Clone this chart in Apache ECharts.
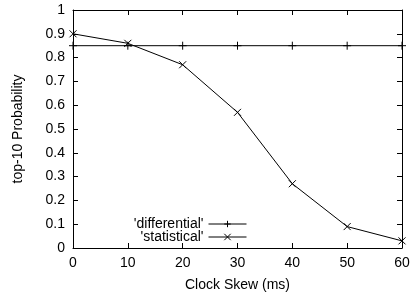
<!DOCTYPE html>
<html>
<head>
<meta charset="utf-8">
<script src="https://cdn.jsdelivr.net/npm/echarts@6/dist/echarts.min.js"></script>
<style>
    html, body { margin: 0; padding: 0; background: #fff; }
    #chart { width: 411px; height: 292px; }
</style>
</head>
<body>
<div id="chart"></div>
<script>
// clock skew (ms)
var skews = [0, 10, 20, 30, 40, 50, 60];
var differential = [0.85, 0.85, 0.85, 0.85, 0.85, 0.85, 0.85];
var statistical = [0.9, 0.86, 0.77, 0.57, 0.27, 0.09, 0.03];
var seriesNames = ["'differential'", "'statistical'"];

var FONT = 'Liberation Sans';
var FS = 14;
var plusPath = 'path://M0,5L10,5M5,0L5,10';
var crossPath = 'path://M0,0L10,10M10,0L0,10';

function pairs(xs, ys) {
    var out = [];
    for (var i = 0; i < xs.length; i++) {
        out.push([xs[i], ys[i]]);
    }
    return out;
}

// one legend box per row so the rows sit where the picture has them
function legendRow(name, top) {
    return {
        orient: 'vertical',
        align: 'right',
        right: 164,
        top: top,
        padding: 0,
        itemWidth: 38,
        itemHeight: 8,
        itemGap: 0,
        lineStyle: { width: 1 },
        itemStyle: { borderWidth: 1 },
        textStyle: { fontFamily: FONT, fontSize: FS, color: '#000' },
        data: [name]
    };
}

var chart = echarts.init(document.getElementById('chart'));

var axisBase = {
    type: 'value',
    axisLine: { show: true, onZero: false, lineStyle: { color: '#000', width: 1 } },
    axisTick: { show: true, inside: true, length: 5, lineStyle: { color: '#000' } },
    splitLine: { show: false }
};

chart.setOption({
    animation: false,
    textStyle: { fontFamily: FONT },
    grid: { left: 73, right: 9, top: 10, bottom: 44, outerBoundsMode: 'none' },
    legend: [
        legendRow(seriesNames[0], 217),
        legendRow(seriesNames[1], 230)
    ],
    xAxis: [
        Object.assign({}, axisBase, {
            position: 'bottom',
            min: 0, max: 60, interval: 10,
            name: 'Clock Skew (ms)',
            nameLocation: 'middle',
            nameGap: 30,
            nameTextStyle: { fontFamily: FONT, fontSize: FS, color: '#000' },
            axisLabel: { fontFamily: FONT, fontSize: FS, color: '#000', margin: 8 }
        }),
        Object.assign({}, axisBase, {
            position: 'top',
            min: 0, max: 60, interval: 10,
            axisLabel: { show: false }
        })
    ],
    yAxis: [
        Object.assign({}, axisBase, {
            position: 'left',
            min: 0, max: 1, interval: 0.1,
            name: 'top-10 Probability',
            nameLocation: 'middle',
            nameGap: 48,
            nameTextStyle: { fontFamily: FONT, fontSize: FS, color: '#000' },
            axisLabel: { fontFamily: FONT, fontSize: FS, color: '#000', margin: 8 }
        }),
        Object.assign({}, axisBase, {
            position: 'right',
            min: 0, max: 1, interval: 0.1,
            axisLabel: { show: false }
        })
    ],
    series: [
        {
            name: seriesNames[0],
            type: 'line',
            data: pairs(skews, differential),
            symbol: plusPath,
            symbolSize: 8,
            showAllSymbol: true,
            lineStyle: { color: '#000', width: 1 },
            itemStyle: { color: 'none', borderColor: '#000', borderWidth: 1 }
        },
        {
            name: seriesNames[1],
            type: 'line',
            data: pairs(skews, statistical),
            symbol: crossPath,
            symbolSize: 7,
            showAllSymbol: true,
            lineStyle: { color: '#000', width: 1 },
            itemStyle: { color: 'none', borderColor: '#000', borderWidth: 1 }
        }
    ]
});
</script>
</body>
</html>
